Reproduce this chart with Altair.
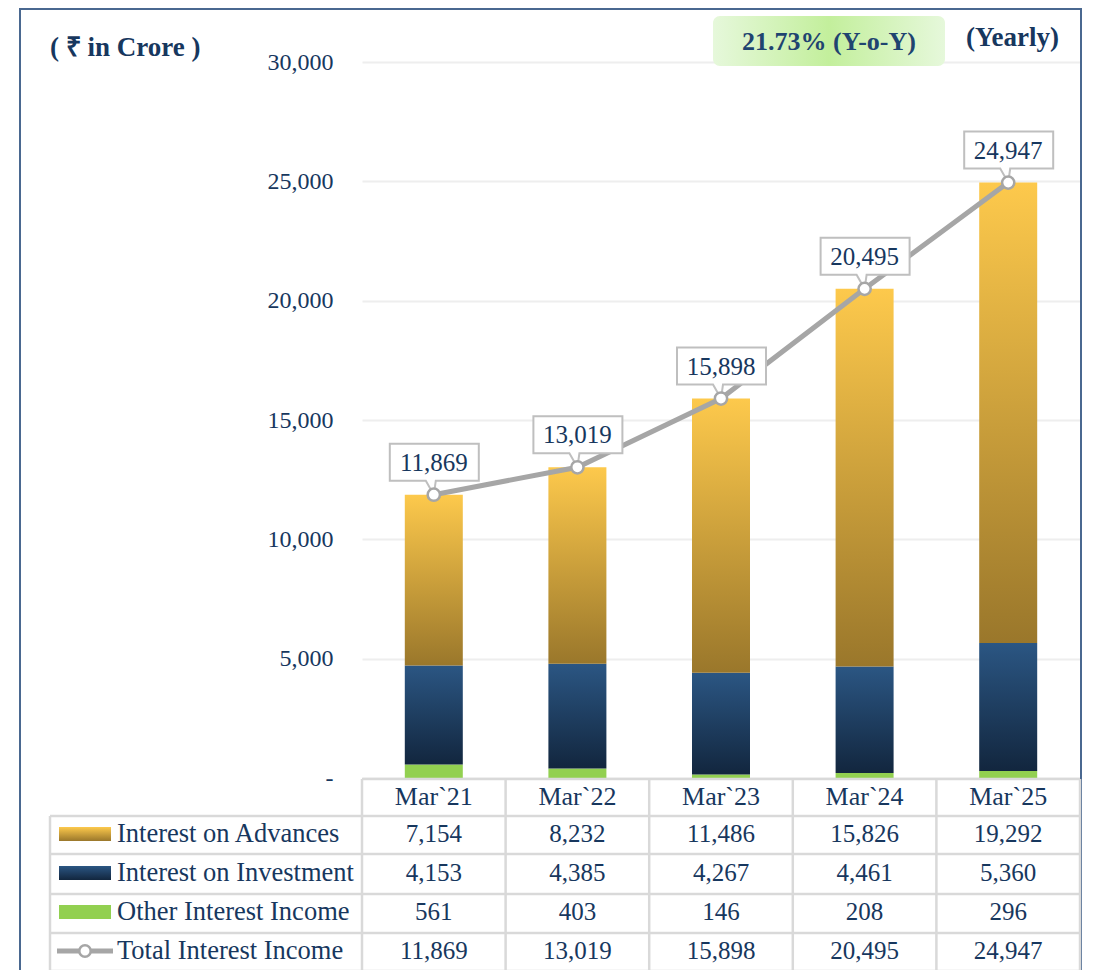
import altair as alt
import pandas as pd

# ---------------- data ----------------
categories = ["Mar`21", "Mar`22", "Mar`23", "Mar`24", "Mar`25"]
advances = [7154, 8232, 11486, 15826, 19292]
investment = [4153, 4385, 4267, 4461, 5360]
other = [561, 403, 146, 208, 296]
total = [11869, 13019, 15898, 20495, 24947]
series_names = ["Interest on Advances", "Interest on Investment",
                "Other Interest Income", "Total Interest Income"]
y_ticks = [0, 5000, 10000, 15000, 20000, 25000, 30000]
unit_label = "( ₹ in Crore )"
period_label = "(Yearly)"
yoy_label = "21.73% (Y-o-Y)"

# ---------------- style ----------------
FONT = "Liberation Serif"
NAVY = "#17375e"
GRAY_LINE = "#a6a6a6"
TABLE_LINE = "#d9d9d9"
W, H = 718, 716

def vgrad(top, bottom):
    return alt.LinearGradient(
        gradient="linear",
        stops=[alt.GradientStop(color=top, offset=0),
               alt.GradientStop(color=bottom, offset=1)],
        x1=0, x2=0, y1=0, y2=1)

ADV_G = vgrad("#fdc94c", "#9a772b")
INV_G = vgrad("#2b5683", "#12263e")
GREEN = "#92d050"
BADGE_G = alt.LinearGradient(
    gradient="linear",
    stops=[alt.GradientStop(color="#e6f8db", offset=0),
           alt.GradientStop(color="#c3ef9c", offset=0.5),
           alt.GradientStop(color="#e6f8db", offset=1)],
    x1=0, x2=1, y1=0, y2=0)

df = pd.DataFrame({"cat": categories, "adv": advances, "inv": investment,
                   "oth": other, "tot": total})
df["z"] = 0
df["oth_top"] = df["oth"]
df["inv_top"] = df["oth"] + df["inv"]
df["adv_top"] = df["inv_top"] + df["adv"]

one = pd.DataFrame({"k": [0]})

xenc = alt.X("cat:N", sort=categories,
             scale=alt.Scale(paddingInner=0, paddingOuter=0), axis=None)
yscale = alt.Scale(domain=[0, 30000], nice=False)
yaxis = alt.Axis(values=y_ticks, title=None, ticks=False, domain=False,
                 labelExpr="datum.value == 0 ? '-\u00a0\u00a0\u00a0' : format(datum.value, ',')",
                 labelFont=FONT, labelFontSize=24, labelColor=NAVY,
                 labelPadding=29, gridColor="#eeeeee", gridWidth=2)

base = alt.Chart(df)

layers = []

# outer frame
layers.append(alt.Chart(one).mark_rect(fill=None, stroke="#4a6890", strokeWidth=2).encode(
    x=alt.value(-342), x2=alt.value(719), y=alt.value(-53), y2=alt.value(960)))

# bars
layers.append(base.mark_bar(width=58, color=GREEN).encode(
    x=xenc, y=alt.Y("oth_top:Q", scale=yscale, axis=yaxis), y2="z:Q"))
layers.append(base.mark_bar(width=58, color=INV_G).encode(
    x=xenc, y=alt.Y("inv_top:Q", scale=yscale), y2="oth_top:Q"))
layers.append(base.mark_bar(width=58, color=ADV_G).encode(
    x=xenc, y=alt.Y("adv_top:Q", scale=yscale), y2="inv_top:Q"))

# badge + titles
layers.append(alt.Chart(one).mark_rect(fill=BADGE_G, cornerRadius=7).encode(
    x=alt.value(351), x2=alt.value(583), y=alt.value(-46), y2=alt.value(4)))
layers.append(alt.Chart(one).mark_text(text=yoy_label, font=FONT, fontSize=26,
                                       fontWeight="bold", color="#1f4470").encode(
    x=alt.value(467), y=alt.value(-20)))
layers.append(alt.Chart(one).mark_text(text=period_label, font=FONT, fontSize=27,
                                       fontWeight="bold", color=NAVY, align="left").encode(
    x=alt.value(604), y=alt.value(-24)))
layers.append(alt.Chart(one).mark_text(text=unit_label, font=FONT, fontSize=27,
                                       fontWeight="bold", color=NAVY, align="left").encode(
    x=alt.value(-312), y=alt.value(-14)))

# total line
layers.append(base.mark_line(color=GRAY_LINE, strokeWidth=5).encode(
    x=xenc, y=alt.Y("tot:Q", scale=yscale)))

# callout boxes (custom path, size=4 -> 1 unit = 1 px)
CALLOUT = "M-44,-51 L45,-51 L45,-14 L2,-14 L0,0 L-8,-14 L-44,-14 Z"
layers.append(base.mark_point(shape=CALLOUT, size=4, filled=True, fill="white",
                              stroke="#bfbfbf", strokeWidth=2, opacity=1).encode(
    x=xenc, y=alt.Y("tot:Q", scale=yscale)))
layers.append(base.mark_point(shape="circle", size=150, filled=True, fill="white",
                              stroke=GRAY_LINE, strokeWidth=2.5, opacity=1).encode(
    x=xenc, y=alt.Y("tot:Q", scale=yscale)))
layers.append(base.mark_text(dy=-32, font=FONT, fontSize=25, color=NAVY).encode(
    x=xenc, y=alt.Y("tot:Q", scale=yscale), text=alt.Text("tot:Q", format=",")))

# ---------------- data table ----------------
hlines = [(0, 718, 717), (-312, 718, 754), (-312, 718, 792), (-312, 718, 832),
          (-312, 718, 871), (-312, 718, 909)]
for x1, x2, yy in hlines:
    layers.append(alt.Chart(one).mark_rule(color=TABLE_LINE, strokeWidth=2.5).encode(
        x=alt.value(x1), x2=alt.value(x2), y=alt.value(yy)))
layers.append(base.mark_rule(color=TABLE_LINE, strokeWidth=2.5).encode(
    x=alt.X("cat:N", sort=categories, scale=alt.Scale(paddingInner=0, paddingOuter=0),
            axis=None, bandPosition=0),
    y=alt.value(717), y2=alt.value(960)))
layers.append(alt.Chart(one).mark_rule(color=TABLE_LINE, strokeWidth=2.5).encode(
    x=alt.value(718), y=alt.value(717), y2=alt.value(960)))
layers.append(alt.Chart(one).mark_rule(color=TABLE_LINE, strokeWidth=2.5).encode(
    x=alt.value(-312), y=alt.value(754), y2=alt.value(960)))

# header
layers.append(base.mark_text(font=FONT, fontSize=26, color=NAVY).encode(
    x=xenc, y=alt.value(735), text="cat:N"))

row_y = [772, 811, 850, 889]
row_fields = ["adv", "inv", "oth", "tot"]
for fld, ry in zip(row_fields, row_y):
    layers.append(base.mark_text(font=FONT, fontSize=25, color=NAVY).encode(
        x=xenc, y=alt.value(ry), text=alt.Text(f"{fld}:Q", format=",")))

for name, ry in zip(series_names, row_y):
    layers.append(alt.Chart(one).mark_text(text=name, font=FONT, fontSize=26.5,
                                           color=NAVY, align="left").encode(
        x=alt.value(-245), y=alt.value(ry)))

# legend swatches
for fill, ry in zip([ADV_G, INV_G, GREEN], row_y[:3]):
    layers.append(alt.Chart(one).mark_rect(color=fill).encode(
        x=alt.value(-303), x2=alt.value(-251), y=alt.value(ry - 7), y2=alt.value(ry + 7)))
layers.append(alt.Chart(one).mark_rule(color=GRAY_LINE, strokeWidth=5).encode(
    x=alt.value(-305), x2=alt.value(-249), y=alt.value(row_y[3])))
layers.append(alt.Chart(one).mark_point(shape="circle", size=130, filled=True, fill="white",
                                        stroke=GRAY_LINE, strokeWidth=2.5, opacity=1).encode(
    x=alt.value(-277), y=alt.value(row_y[3])))

chart = alt.layer(*layers).properties(
    width=W, height=H,
    autosize=alt.AutoSizeParams(type="none"),
    padding={"left": 354, "top": 54, "right": 6, "bottom": 192},
    background="white",
).configure_view(stroke=None)

chart.save("out.html", embed_options={"renderer": "svg", "actions": False})
